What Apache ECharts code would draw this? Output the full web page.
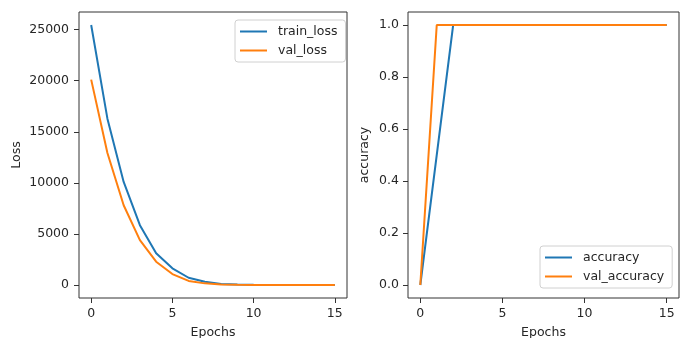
<!DOCTYPE html>
<html>
<head>
<meta charset="utf-8">
<script src="https://cdn.jsdelivr.net/npm/echarts@6/dist/echarts.min.js"></script>
<style>
html,body{margin:0;padding:0;background:#fff;}
#c{width:684px;height:338px;}
</style>
</head>
<body>
<div id="c"></div>
<script>
const epochs = [0,1,2,3,4,5,6,7,8,9,10,11,12,13,14,15];
const trainLoss = [25450,16280,10090,5860,3100,1630,710,320,110,40,15,8,5,4,3,3];
const valLoss = [20100,12920,7810,4390,2280,1070,400,160,60,20,10,6,4,3,3,3];
const accuracy = [0,0.5,1,1,1,1,1,1,1,1,1,1,1,1,1,1];
const valAccuracy = [0,1,1,1,1,1,1,1,1,1,1,1,1,1,1,1];
const xTicks = [0,5,10,15];
const lossTicks = [0,5000,10000,15000,20000,25000];
const accTicks = [0,0.2,0.4,0.6,0.8,1.0];

const pairs = (ys) => epochs.map((e,i)=>[e, ys[i]]);
const FONT = 'DejaVu Sans';
const TXT = '#262626';
const BLUE = '#1f77b4', ORANGE = '#ff7f0e';

function xAxisCfg(gi){
  return {
    type:'value', gridIndex:gi, min:-0.75, max:15.75, position:'bottom',
    name:'Epochs', nameLocation:'middle', nameGap:28,
    nameTextStyle:{fontFamily:FONT,fontSize:12.5,color:TXT},
    axisLine:{show:false,onZero:false},
    splitLine:{show:false},
    axisTick:{show:true,inside:false,length:5,lineStyle:{color:'#333'},customValues:xTicks},
    axisLabel:{fontFamily:FONT,fontSize:12.5,color:TXT,margin:9,customValues:xTicks,formatter:(v)=>String(v)}
  };
}
function legendCfg(names,left,top){
  return {data:names,orient:'vertical',left:left,top:top,
     icon:'rect',itemWidth:27,itemHeight:2,itemGap:4,padding:[4,8,4,5],
     backgroundColor:'rgba(255,255,255,0.8)',borderColor:'#d0d0d0',borderWidth:1,borderRadius:3,
     textStyle:{fontFamily:FONT,fontSize:12.5,color:TXT,padding:[0,0,0,6],lineHeight:15}};
}

const option = {
  animation:false,
  backgroundColor:'#fff',
  grid:[
    {left:79,top:12,width:268,height:286,outerBoundsMode:'none',containLabel:false,show:true,borderColor:'#333',borderWidth:1,backgroundColor:'transparent'},
    {left:408,top:12,width:271,height:286,outerBoundsMode:'none',containLabel:false,show:true,borderColor:'#333',borderWidth:1,backgroundColor:'transparent'}
  ],
  xAxis:[xAxisCfg(0), xAxisCfg(1)],
  yAxis:[
    {type:'value',gridIndex:0,min:-1272.5,max:26722.5,position:'left',
     name:'Loss',nameLocation:'middle',nameGap:56,nameRotate:90,
     nameTextStyle:{fontFamily:FONT,fontSize:12.5,color:TXT},
     axisLine:{show:false,onZero:false},splitLine:{show:false},
     axisTick:{show:true,inside:false,length:5,lineStyle:{color:'#333'},customValues:lossTicks},
     axisLabel:{fontFamily:FONT,fontSize:12.5,color:TXT,margin:10,customValues:lossTicks,formatter:(v)=>String(v)}},
    {type:'value',gridIndex:1,min:-0.05,max:1.05,position:'left',
     name:'accuracy',nameLocation:'middle',nameGap:37,nameRotate:90,
     nameTextStyle:{fontFamily:FONT,fontSize:12.5,color:TXT},
     axisLine:{show:false,onZero:false},splitLine:{show:false},
     axisTick:{show:true,inside:false,length:5,lineStyle:{color:'#333'},customValues:accTicks},
     axisLabel:{fontFamily:FONT,fontSize:12.5,color:TXT,margin:9,customValues:accTicks,
       formatter:(v)=>Number(v).toFixed(1)}}
  ],
  legend:[
    legendCfg(['train_loss','val_loss'],235,20),
    legendCfg(['accuracy','val_accuracy'],540,246)
  ],
  series:[
    {name:'train_loss',type:'line',xAxisIndex:0,yAxisIndex:0,data:pairs(trainLoss),symbol:'none',
     lineStyle:{color:BLUE,width:2},itemStyle:{color:BLUE}},
    {name:'val_loss',type:'line',xAxisIndex:0,yAxisIndex:0,data:pairs(valLoss),symbol:'none',
     lineStyle:{color:ORANGE,width:2},itemStyle:{color:ORANGE}},
    {name:'accuracy',type:'line',xAxisIndex:1,yAxisIndex:1,data:pairs(accuracy),symbol:'none',
     lineStyle:{color:BLUE,width:2},itemStyle:{color:BLUE}},
    {name:'val_accuracy',type:'line',xAxisIndex:1,yAxisIndex:1,data:pairs(valAccuracy),symbol:'none',
     lineStyle:{color:ORANGE,width:2},itemStyle:{color:ORANGE}}
  ]
};
const chart = echarts.init(document.getElementById('c'),null,{renderer:'canvas'});
chart.setOption(option);
</script>
</body>
</html>
